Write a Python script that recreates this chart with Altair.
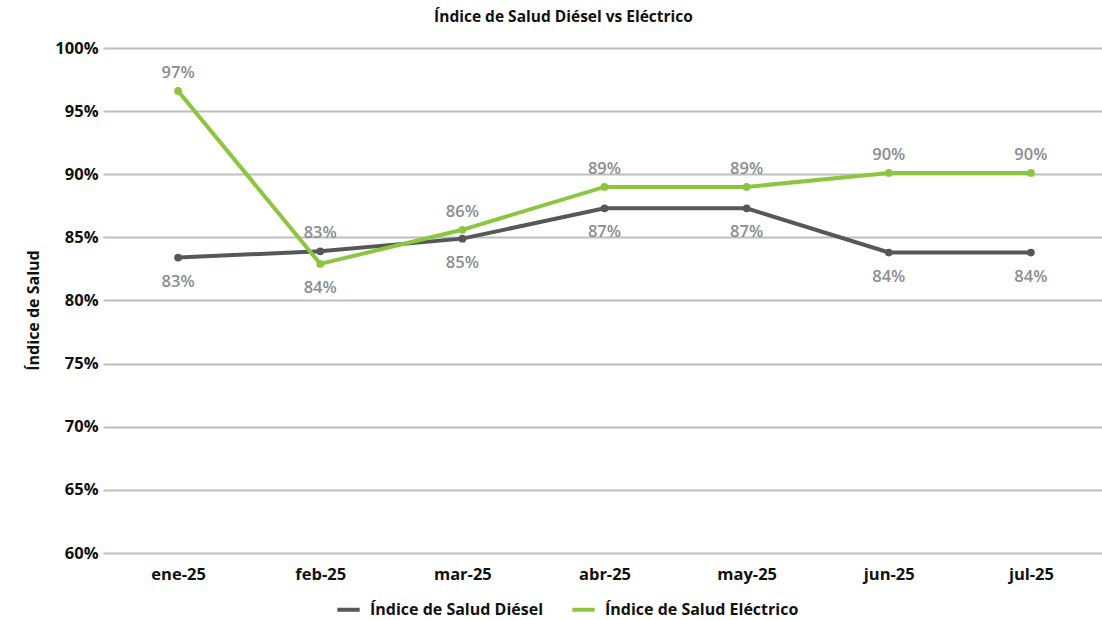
import altair as alt
import pandas as pd

months = ["ene-25", "feb-25", "mar-25", "abr-25", "may-25", "jun-25", "jul-25"]
diesel = [0.834, 0.839, 0.849, 0.873, 0.873, 0.838, 0.838]
electric = [0.966, 0.829, 0.856, 0.890, 0.890, 0.901, 0.901]
series_names = ["Índice de Salud Diésel", "Índice de Salud Eléctrico"]
series_colors = ["#555859", "#8cc63f"]

FONT = "Open Sans"

rows = []
for m, d, e in zip(months, diesel, electric):
    rows.append({"mes": m, "serie": series_names[0], "valor": d,
                 "ancla": min(d, e), "pos": "abajo"})
    rows.append({"mes": m, "serie": series_names[1], "valor": e,
                 "ancla": max(d, e), "pos": "arriba"})
df = pd.DataFrame(rows)

x = alt.X("mes:N", sort=months, title=None,
          scale=alt.Scale(type="point", padding=0.5),
          axis=alt.Axis(labelAngle=0, ticks=False, domain=False, labelPadding=13,
                        labelFont=FONT, labelFontSize=16.5, labelFontWeight="bold",
                        labelColor="#111111"))
y_scale = alt.Scale(domain=[0.6, 1.0], nice=False, zero=False)
color = alt.Color("serie:N", sort=series_names,
                  scale=alt.Scale(domain=series_names, range=series_colors),
                  legend=alt.Legend(title=None, orient="none", direction="horizontal",
                                    legendX=228, legendY=548, symbolType="stroke",
                                    symbolStrokeWidth=4, symbolSize=500,
                                    labelFont=FONT, labelFontSize=16,
                                    labelFontWeight="bold", labelColor="#111111",
                                    labelLimit=0, columnPadding=20, labelOffset=8))

base = alt.Chart(df)

lines = base.mark_line(strokeWidth=4).encode(
    x=x,
    y=alt.Y("valor:Q", scale=y_scale, title="Índice de Salud",
            axis=alt.Axis(format=".0%", values=[0.6, 0.65, 0.7, 0.75, 0.8, 0.85, 0.9, 0.95, 1.0],
                          domain=False, ticks=True, tickSize=4, tickColor="#bdbdbd",
                          tickWidth=2, labelPadding=5,
                          gridColor="#bdbdbd", gridWidth=2,
                          labelFont=FONT, labelFontSize=16.5, labelFontWeight="bold",
                          labelColor="#111111",
                          titleFont=FONT, titleFontSize=16, titleFontWeight="bold",
                          titleColor="#111111", titleAngle=270, titleX=-74, titleY=262,
                          titleAlign="center", titleBaseline="middle")),
    color=color,
)

points = base.mark_circle(size=60, opacity=1).encode(
    x=x, y=alt.Y("valor:Q", scale=y_scale), color=alt.Color("serie:N", sort=series_names,
        scale=alt.Scale(domain=series_names, range=series_colors), legend=None),
)

label_style = dict(font=FONT, fontSize=16.5, color="#8a8d92", fontWeight=600)

labels_up = base.transform_filter(alt.datum.pos == "arriba").mark_text(
    dy=-18, **label_style).encode(
    x=x, y=alt.Y("ancla:Q", scale=y_scale),
    text=alt.Text("valor:Q", format=".0%"),
)
labels_down = base.transform_filter(alt.datum.pos == "abajo").mark_text(
    dy=24, **label_style).encode(
    x=x, y=alt.Y("ancla:Q", scale=y_scale),
    text=alt.Text("valor:Q", format=".0%"),
)

chart = alt.layer(lines, points, labels_up, labels_down).properties(
    width=995, height=505,
    title=alt.TitleParams("Índice de Salud Diésel vs Eléctrico", font=FONT, fontSize=15.5,
                          fontWeight="bold", color="#111111", anchor="middle",
                          dx=-41, offset=15),
    autosize=alt.AutoSizeParams(type="none"),
    padding={"left": 107, "top": 48, "right": 0, "bottom": 67},
).configure_view(stroke=None)

chart.save("out.html", embed_options={"renderer": "svg", "actions": False})
